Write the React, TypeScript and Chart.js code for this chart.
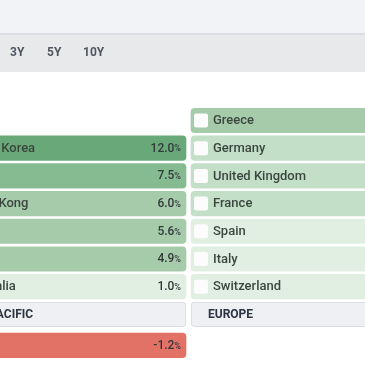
import { useEffect, useRef } from "react";
import { Chart, registerables } from "chart.js";

Chart.register(...registerables);

const PERIODS = ["3Y", "5Y", "10Y"];

const ASIA_HEADER = "ASIA PACIFIC";
const ASIA_COUNTRIES = ["South Korea", "Japan", "Hong Kong", "China", "India", "Australia"];
const ASIA_RETURNS = [12.0, 7.5, 6.0, 5.6, 4.9, 1.0];

const EUROPE_HEADER = "EUROPE";
const EUROPE_COUNTRIES = ["Greece", "Germany", "United Kingdom", "France", "Spain", "Italy", "Switzerland"];
const EUROPE_RETURNS = [5.2, 3.4, 3.1, 2.8, 1.7, 1.3, 0.6];

const NEXT_COUNTRIES = ["Brazil"];
const NEXT_RETURNS = [-1.2];

type Cell = {
  x: [number, number];
  y: number;
  label: string;
  value: number | null;
  kind: "country" | "header";
};

const COL_GAP = 0.01004;
const GROUP_GAP = 0.12;
const HEADER_ROW = 7;

function buildColumn(col: number, header: string, names: string[], vals: number[], cells: Cell[]) {
  const start = HEADER_ROW - names.length;
  names.forEach((n, i) => {
    cells.push({ x: [col + COL_GAP, col + 1 - COL_GAP], y: start + i, label: n, value: vals[i], kind: "country" });
  });
  cells.push({ x: [col + COL_GAP, col + 1 - COL_GAP], y: HEADER_ROW, label: header, value: null, kind: "header" });
}

function buildCells(): Cell[] {
  const cells: Cell[] = [];
  buildColumn(0, ASIA_HEADER, ASIA_COUNTRIES, ASIA_RETURNS, cells);
  buildColumn(1, EUROPE_HEADER, EUROPE_COUNTRIES, EUROPE_RETURNS, cells);
  NEXT_COUNTRIES.forEach((n, i) => {
    cells.push({ x: [COL_GAP, 1 - COL_GAP], y: HEADER_ROW + 1 + i + GROUP_GAP, label: n, value: NEXT_RETURNS[i], kind: "country" });
  });
  return cells;
}

function colorFor(c: Cell): string {
  if (c.kind === "header" || c.value === null) return "#eef0f3";
  const v = c.value;
  if (v < 0) return "#e27166";
  if (v >= 10) return "#69a979";
  if (v >= 7) return "#86bb92";
  if (v >= 4) return "#a5cbab";
  if (v >= 2) return "#c3dfc8";
  return "#e0efe2";
}

const FONT = "Roboto, 'Liberation Sans', sans-serif";

const backgroundPlugin = {
  id: "pageBackground",
  beforeDraw(chart: any) {
    const ctx = chart.ctx as CanvasRenderingContext2D;
    const w = chart.width;
    ctx.save();
    ctx.fillStyle = "#ffffff";
    ctx.fillRect(0, 0, w, chart.height);
    ctx.fillStyle = "#f2f3f7";
    ctx.fillRect(0, 0, w, 33);
    ctx.fillStyle = "#dcdde5";
    ctx.fillRect(0, 33, w, 2);
    ctx.fillStyle = "#e8e9eb";
    ctx.fillRect(0, 35, w, 37);
    ctx.fillStyle = "#50555f";
    ctx.font = `bold 12px ${FONT}`;
    ctx.textBaseline = "middle";
    ctx.textAlign = "left";
    const xs = [10, 47, 83];
    PERIODS.forEach((p, i) => ctx.fillText(p, xs[i], 53));
    ctx.restore();
  },
};

const labelPlugin = {
  id: "cellLabels",
  afterDatasetsDraw(chart: any) {
    const ctx = chart.ctx as CanvasRenderingContext2D;
    const meta = chart.getDatasetMeta(0);
    const cells = chart.data.datasets[0].data as Cell[];
    ctx.save();
    ctx.textBaseline = "middle";
    meta.data.forEach((el: any, i: number) => {
      const c = cells[i];
      const p = el.getProps(["x", "y", "base"], true);
      const left = Math.min(p.x, p.base);
      const right = Math.max(p.x, p.base);
      const cy = p.y;
      if (c.kind === "header") {
        ctx.fillStyle = "#2d3340";
        ctx.font = `bold 12px ${FONT}`;
        ctx.textAlign = "left";
        ctx.fillText(c.label, left + 17, cy + 0.5);
        return;
      }
      ctx.fillStyle = "#fcfcfc";
      ctx.beginPath();
      (ctx as any).roundRect(left + 3, cy - 7, 14, 14, 2);
      ctx.fill();
      ctx.fillStyle = "#3b463f";
      ctx.font = `500 13px ${FONT}`;
      ctx.textAlign = "left";
      ctx.fillText(c.label, left + 22, cy + 0.5);
      if (c.value !== null) {
        ctx.textAlign = "right";
        ctx.font = `500 9px ${FONT}`;
        ctx.fillStyle = "#33393a";
        const pctW = ctx.measureText("%").width;
        ctx.fillText("%", right - 5, cy + 1);
        ctx.font = `500 12px ${FONT}`;
        ctx.fillText(c.value.toFixed(1), right - 5 - pctW, cy + 0.5);
      }
    });
    ctx.restore();
  },
};

export default function App() {
  const ref = useRef<HTMLCanvasElement | null>(null);
  useEffect(() => {
    if (!ref.current) return;
    const cells = buildCells();
    const chart = new Chart(ref.current, {
      type: "bar",
      data: {
        datasets: [
          {
            data: cells as any,
            backgroundColor: (ctx: any) => colorFor(ctx.raw as Cell),
            borderColor: (ctx: any) => ((ctx.raw as Cell).kind === "header" ? "#d9dbe0" : "rgba(0,0,0,0)"),
            borderWidth: (ctx: any) => ((ctx.raw as Cell).kind === "header" ? 1 : 0),
            borderRadius: 4,
            borderSkipped: false,
            barThickness: 24.5,
          } as any,
        ],
      },
      options: {
        indexAxis: "y",
        responsive: false,
        animation: false,
        devicePixelRatio: 1,
        layout: { padding: 0 },
        scales: {
          x: { type: "linear", min: 0.243, max: 1.7088, display: false, offset: false },
          y: { type: "linear", min: -4.35, max: 8.827, reverse: true, display: false, offset: false },
        },
        plugins: {
          legend: { display: false },
          tooltip: { enabled: false },
        },
      },
      plugins: [backgroundPlugin, labelPlugin],
    });
    return () => chart.destroy();
  }, []);
  return (
    <div style={{ position: "fixed", left: 0, top: 0, width: 365, height: 365 }}>
      <canvas ref={ref} width={365} height={365} style={{ display: "block" }} />
    </div>
  );
}
